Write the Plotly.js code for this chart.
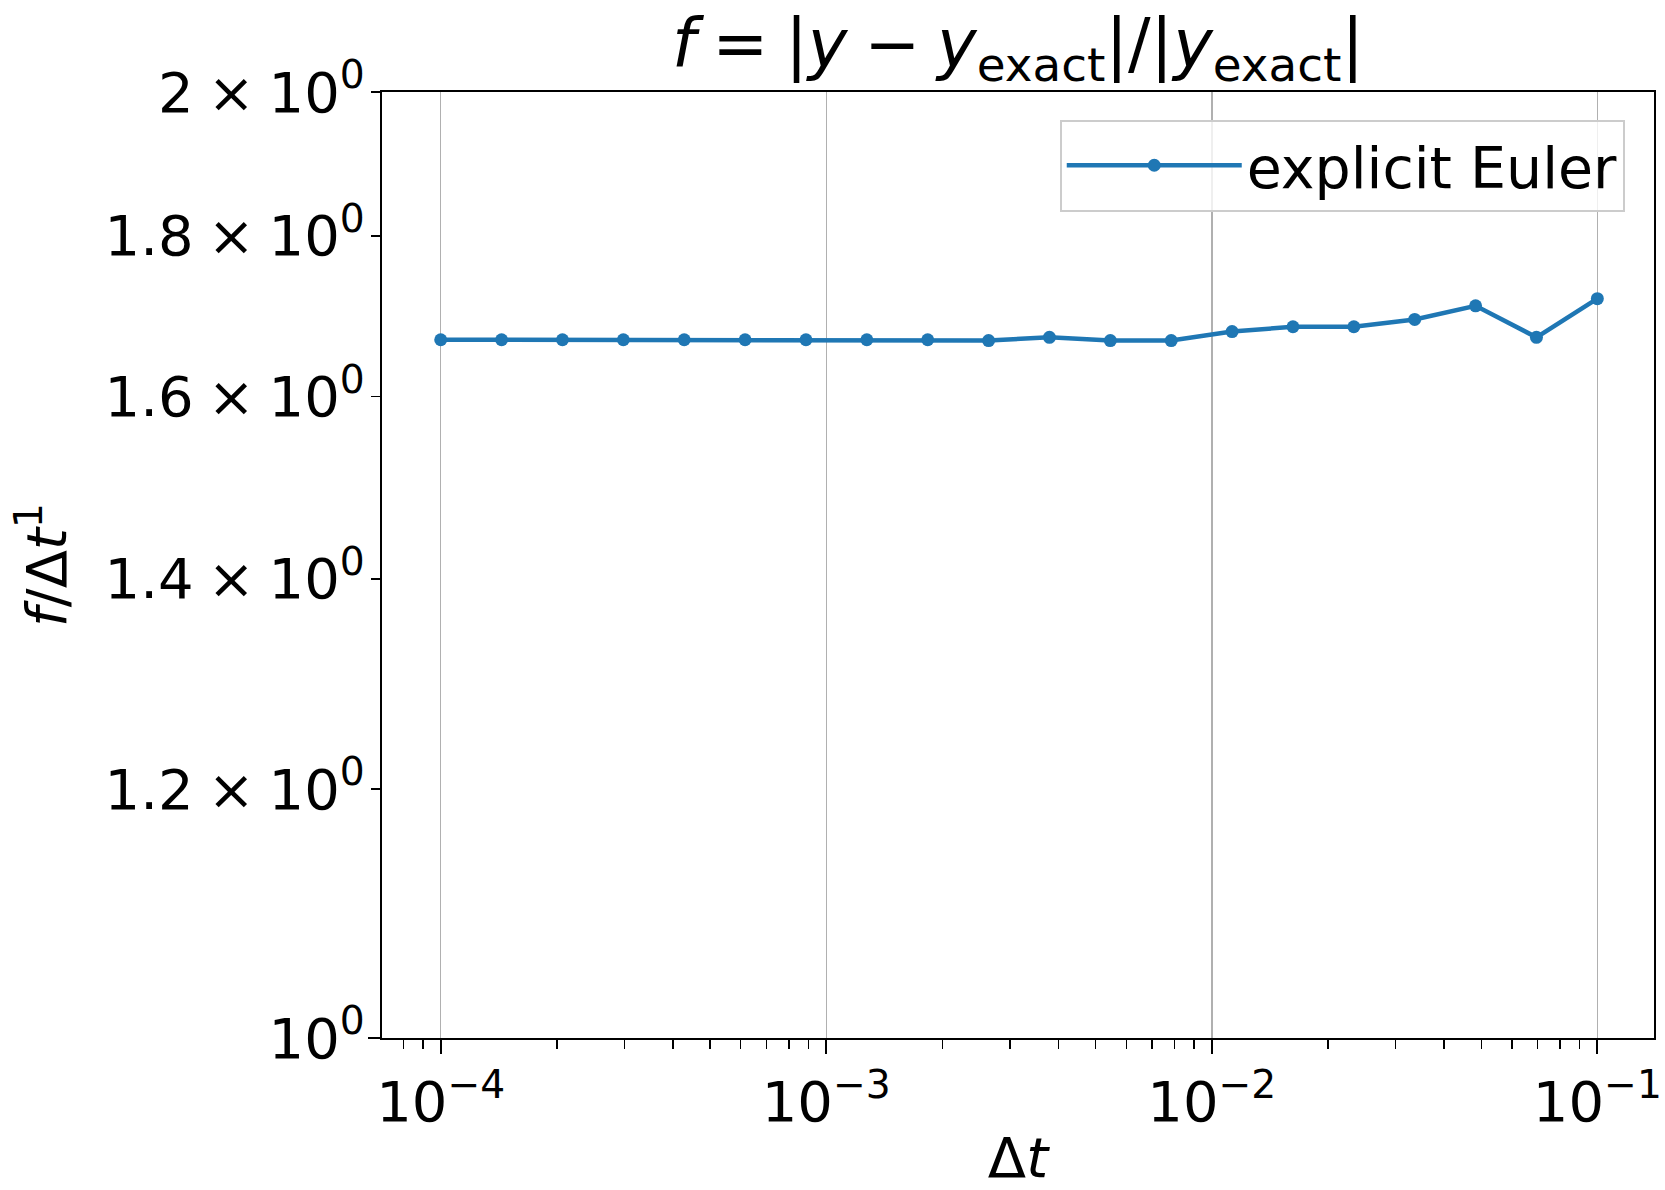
<!DOCTYPE html>
<html>
<head>
<meta charset="utf-8">
<script src="https://cdn.plot.ly/plotly-3.0.1.min.js"></script>
<style>
  html, body { margin: 0; padding: 0; background: #fff; }
  #chart { width: 1665px; height: 1190px; }
</style>
</head>
<body>
<div id="chart"></div>
<script>
// ---- data ----
const dtValues = [
  1.0000e-4, 1.4384e-4, 2.0691e-4, 2.9764e-4, 4.2813e-4,
  6.1585e-4, 8.8587e-4, 1.2743e-3, 1.8330e-3, 2.6367e-3,
  3.7927e-3, 5.4556e-3, 7.8476e-3, 1.1288e-2, 1.6238e-2,
  2.3357e-2, 3.3598e-2, 4.8329e-2, 6.9519e-2, 1.0000e-1
];
const eulerRatio = [
  1.668, 1.668, 1.668, 1.668, 1.668,
  1.668, 1.668, 1.668, 1.668, 1.667,
  1.671, 1.667, 1.667, 1.678, 1.684,
  1.684, 1.693, 1.710, 1.671, 1.719
];
const seriesName = "explicit Euler";

const xTickVals = [1e-4, 1e-3, 1e-2, 1e-1];
const xTickText = ["10<sup>\u22124</sup>", "10<sup>\u22123</sup>", "10<sup>\u22122</sup>", "10<sup>\u22121</sup>"];
const xMinorVals = [8e-5, 9e-5,
  2e-4, 3e-4, 4e-4, 5e-4, 6e-4, 7e-4, 8e-4, 9e-4,
  2e-3, 3e-3, 4e-3, 5e-3, 6e-3, 7e-3, 8e-3, 9e-3,
  2e-2, 3e-2, 4e-2, 5e-2, 6e-2, 7e-2, 8e-2, 9e-2, 2e-1];

const yTickVals = [1.0, 1.2, 1.4, 1.6, 1.8, 2.0];
const yTickText = ["10<sup>0</sup>", "1.2\u2005\u00d7\u200510<sup>0</sup>", "1.4\u2005\u00d7\u200510<sup>0</sup>",
  "1.6\u2005\u00d7\u200510<sup>0</sup>", "1.8\u2005\u00d7\u200510<sup>0</sup>", "2\u2005\u00d7\u200510<sup>0</sup>"];

const titleText = "<i>f</i>\u2005=\u2005|<i>y</i>\u2005\u2212\u2005<i>y</i><sub>exact</sub>|/|<i>y</i><sub>exact</sub>|";
const xTitle = "\u0394<i>t</i>";
const yTitle = "<i>f</i>/\u0394<i>t</i><sup>1</sup>";

// ---- figure ----
const FONT = "DejaVu Sans, Verdana, sans-serif";
const W = 1665, H = 1190;
const L = 382, R = 11, T = 92, B = 152;

const trace = {
  x: dtValues,
  y: eulerRatio,
  type: "scatter",
  mode: "lines+markers",
  name: seriesName,
  line: { color: "#1f77b4", width: 4.5 },
  marker: { color: "#1f77b4", size: 13 }
};

const layout = {
  width: W, height: H,
  margin: { l: L, r: R, t: T, b: B, pad: 0 },
  paper_bgcolor: "#ffffff",
  plot_bgcolor: "#ffffff",
  font: { family: FONT, size: 56, color: "#000000" },
  showlegend: true,
  title: {
    text: titleText,
    font: { family: FONT, size: 67, color: "#000000" },
    xref: "paper", x: 0.5, xanchor: "center",
    yref: "paper", y: 1, yanchor: "bottom",
    pad: { b: 25 }
  },
  xaxis: {
    type: "log",
    range: [-4.1523, -0.853],
    tickmode: "array",
    tickvals: xTickVals,
    ticktext: xTickText,
    ticks: "outside", ticklen: 14, tickwidth: 2, tickcolor: "#000000",
    tickfont: { family: FONT, size: 56, color: "#000000" },
    showline: true, linecolor: "#000000", linewidth: 2, mirror: true,
    showgrid: true, gridcolor: "#b0b0b0", gridwidth: 1.5,
    zeroline: false,
    minor: {
      tickmode: "array", tickvals: xMinorVals,
      ticks: "outside", ticklen: 9, tickwidth: 1.5, tickcolor: "#000000",
      showgrid: false
    },
    title: { text: xTitle, font: { family: FONT, size: 56, color: "#000000" }, standoff: 21 }
  },
  yaxis: {
    type: "log",
    range: [0, 0.30104],
    tickmode: "array",
    tickvals: yTickVals,
    ticktext: yTickText,
    ticks: "outside", ticklen: 9, tickwidth: 1.5, tickcolor: "#000000",
    ticklabelstandoff: -5,
    tickfont: { family: FONT, size: 56, color: "#000000" },
    showline: true, linecolor: "#000000", linewidth: 2, mirror: true,
    showgrid: false,
    zeroline: false,
    minor: {
      tickmode: "array", tickvals: [1.0],
      ticks: "outside", ticklen: 12, tickwidth: 2, tickcolor: "#000000",
      showgrid: false
    },
    title: { text: yTitle, font: { family: FONT, size: 56, color: "#000000" }, standoff: 20 }
  },
  legend: {
    x: 0.977, xanchor: "right",
    y: 0.9707, yanchor: "top",
    bgcolor: "rgba(255,255,255,0.8)",
    bordercolor: "#cccccc", borderwidth: 2,
    font: { family: FONT, size: 57, color: "#000000" },
    itemwidth: 175
  }
};

Plotly.newPlot("chart", [trace], layout, { displayModeBar: false, staticPlot: true });
</script>
</body>
</html>
